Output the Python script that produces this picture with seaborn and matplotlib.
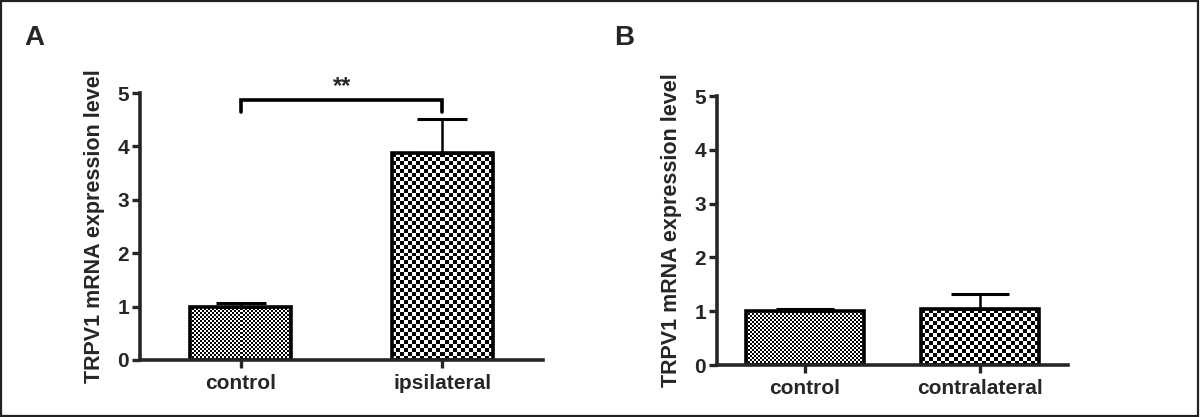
import numpy as np
import pandas as pd
import seaborn as sns
import matplotlib.pyplot as plt
from matplotlib.patches import Rectangle

# panel A
groups_a = ["control", "ipsilateral"]
means_a = [1.00, 3.87]
sems_a = [0.06, 0.64]

# panel B
groups_b = ["control", "contralateral"]
means_b = [1.00, 1.035]
sems_b = [0.05, 0.29]

ylabel = "TRPV1 mRNA expression level"
yticks = [0, 1, 2, 3, 4, 5]

# checker cell size (pixels) per bar: fine for control, coarse for treated
cells = [2, 4]


def checker_fill(ax, patch, cell):
    x0, w, h = patch.get_x(), patch.get_width(), patch.get_height()
    d = ax.transData.transform([[x0, 0], [x0 + w, h]])
    nx = max(1, int(round(abs(d[1, 0] - d[0, 0]) / cell)))
    ny = max(1, int(round(abs(d[1, 1] - d[0, 1]) / cell)))
    yy, xx = np.indices((ny, nx))
    board = ((xx + yy) % 2).astype(float)
    im = ax.imshow(board, extent=(x0, x0 + w, 0, h), cmap="gray",
                   interpolation="nearest", aspect="auto", zorder=1.5,
                   vmin=0, vmax=1)
    im.set_clip_path(patch)
    patch.set_facecolor("none")
    patch.set_zorder(2)


def draw_panel(ax, groups, means, sems, width):
    df = pd.DataFrame({"group": groups, "level": means})
    sns.barplot(data=df, x="group", y="level", ax=ax, width=width,
                edgecolor="black", linewidth=2.6, color="white")
    ax.set_xlim(-0.5, 1.5)
    ax.set_ylim(0, 5)
    for patch, cell in zip(ax.patches, cells):
        checker_fill(ax, patch, cell)
    xs = np.arange(len(groups))
    # capsize is half the cap length; cap spans half the bar width
    cap = width * 0.25 * ax.bbox.width / 2.0 * 72 / ax.figure.dpi
    ax.errorbar(xs, means, yerr=[np.zeros(len(sems)), sems], fmt="none",
                ecolor="black", elinewidth=1.8, capsize=cap, capthick=2.2,
                zorder=3)
    ax.set_xlim(-0.5, 1.5)
    ax.set_ylim(0, 5)
    ax.set_yticks(yticks)
    ax.set_xlabel("")
    ax.set_ylabel(ylabel, fontsize=15.5, fontweight="bold", labelpad=9)
    for s in ["top", "right"]:
        ax.spines[s].set_visible(False)
    for s in ["left", "bottom"]:
        ax.spines[s].set_linewidth(2.6)
    ax.tick_params(axis="both", width=2.4, length=6, direction="out")
    ax.tick_params(axis="y", labelsize=15, pad=2)
    ax.tick_params(axis="x", labelsize=15, pad=4)
    for lab in ax.get_xticklabels() + ax.get_yticklabels():
        lab.set_fontweight("bold")


sns.set_style("ticks")
plt.rcParams["font.family"] = ["Liberation Sans", "DejaVu Sans"]

fig = plt.figure(figsize=(12, 4.17), dpi=100)
ax_a = fig.add_axes([0.1167, 0.1367, 0.336, 0.640])
ax_b = fig.add_axes([0.5975, 0.1247, 0.2925, 0.645])

draw_panel(ax_a, groups_a, means_a, sems_a, 0.5)
draw_panel(ax_b, groups_b, means_b, sems_b, 0.67)

# significance bracket in A
ax_a.plot([0, 0, 1, 1], [4.64, 4.87, 4.87, 4.64], color="black", lw=2.6,
          clip_on=False, solid_capstyle="round", solid_joinstyle="miter")
ax_a.text(0.5, 4.9, "**", ha="center", va="bottom", fontsize=17,
          fontweight="bold", clip_on=False)

fig.text(0.029, 0.91, "A", fontsize=20, fontweight="bold", ha="center", va="center")
fig.text(0.52, 0.91, "B", fontsize=20, fontweight="bold", ha="center", va="center")

fig.patches.append(Rectangle((0.001, 0.002), 0.997, 0.995, transform=fig.transFigure,
                             fill=False, edgecolor="#222222", linewidth=1.6))

fig.savefig("out.png", dpi=100)
